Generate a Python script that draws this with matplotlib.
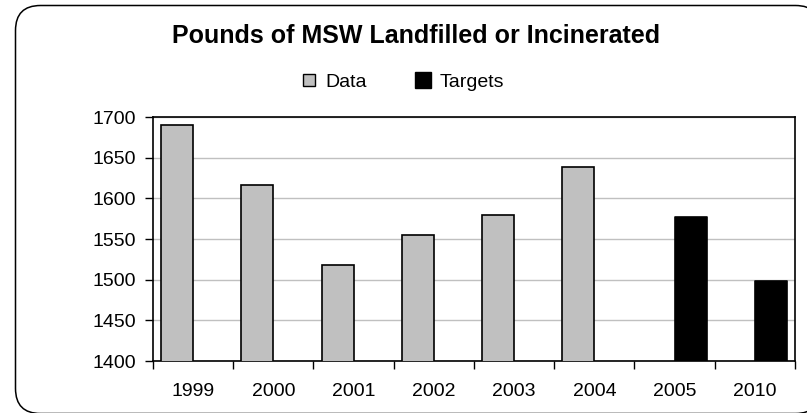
import numpy as np
import matplotlib
matplotlib.use("Agg")
import matplotlib.pyplot as plt
from matplotlib.patches import FancyBboxPatch
from matplotlib.lines import Line2D
from matplotlib.transforms import IdentityTransform

plt.rcParams['font.family'] = ['Liberation Sans', 'DejaVu Sans']

years = ["1999", "2000", "2001", "2002", "2003", "2004", "2005", "2010"]
data_values = [1690, 1616, 1518, 1555, 1580, 1638, np.nan, np.nan]
target_values = [np.nan, np.nan, np.nan, np.nan, np.nan, np.nan, 1577, 1498]

fig = plt.figure(figsize=(8.07, 4.13), dpi=100)
ax = fig.add_axes([0.1896, 0.1259, 0.7955, 0.5908])

x = np.arange(len(years))
w = 0.4
ax.bar(x - w / 2, data_values, w, color="#C0C0C0", edgecolor="black",
       linewidth=1.2, zorder=3, label="Data")
ax.bar(x + w / 2, target_values, w, color="black", edgecolor="black",
       linewidth=1.2, zorder=3, label="Targets", joinstyle="round")

ax.set_ylim(1400, 1700)
ax.set_yticks(np.arange(1400, 1701, 50))
ax.set_xlim(-0.5, len(years) - 0.5)
ax.yaxis.grid(True, color="#C0C0C0", linewidth=1.0, zorder=0)
ax.set_axisbelow(True)

# labels at category centres, tick marks at category boundaries
ax.set_xticks(x)
ax.set_xticklabels(years)
ax.set_xticks(np.arange(-0.5, len(years)), minor=True)
ax.tick_params(axis="x", which="major", length=0, pad=16, labelsize=14)
ax.tick_params(axis="x", which="minor", length=6, width=1, direction="out")
ax.tick_params(axis="y", length=6, width=1, pad=6, labelsize=14)

for s in ax.spines.values():
    s.set_color("black")
    s.set_linewidth(1.2)

fig.text(0.5155, 1 - 43 / 413, "Pounds of MSW Landfilled or Incinerated",
         ha="center", va="baseline", fontsize=18, fontweight="bold")

handles = [
    Line2D([], [], linestyle="none", marker="s", markersize=8.5,
           markerfacecolor="#C0C0C0", markeredgecolor="black", markeredgewidth=1.0),
    Line2D([], [], linestyle="none", marker="s", markersize=12,
           markerfacecolor="black", markeredgecolor="black"),
]
fig.legend(handles, ["Data", "Targets"], ncol=2, loc="center",
           bbox_to_anchor=(0.499, 1 - 82 / 413), frameon=False, fontsize=14,
           handlelength=0.8, handletextpad=0.45, columnspacing=2.5)

# rounded chart border, partly running off the canvas
border = FancyBboxPatch((15.5, -0.5), 805, 408, boxstyle="round,pad=0,rounding_size=25",
                        transform=IdentityTransform(), facecolor="white",
                        edgecolor="black", linewidth=1.1, clip_on=False, zorder=-1)
fig.add_artist(border)

fig.savefig("out.png", dpi=100)
